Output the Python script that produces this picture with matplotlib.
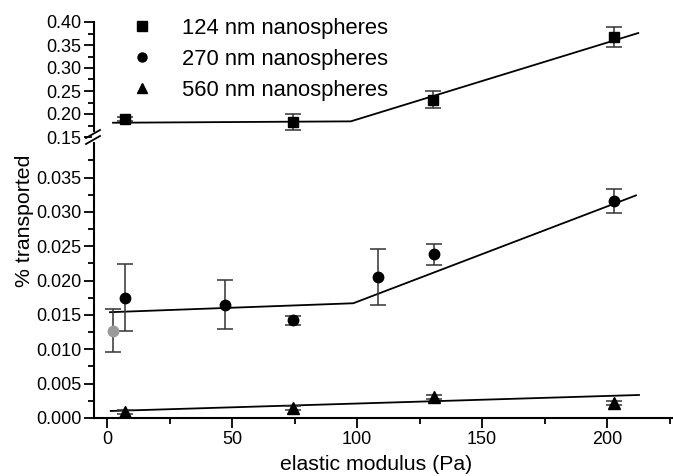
import matplotlib
matplotlib.use("Agg")
import matplotlib.pyplot as plt
from matplotlib.lines import Line2D

plt.rcParams['font.family'] = ['Liberation Sans', 'DejaVu Sans']

# ---- data ----
x124 = [7.2, 74.3, 130.4, 202.8]
y124 = [0.189, 0.183, 0.231, 0.367]
e124 = [0.005, 0.0175, 0.019, 0.022]
fit124_x = [2.4, 97.5, 212.5]
fit124_y = [0.181, 0.184, 0.376]

x270 = [7.2, 47.3, 74.3, 108.5, 130.8, 202.8]
y270 = [0.0175, 0.0165, 0.0142, 0.0205, 0.0238, 0.0316]
e270 = [0.0049, 0.0036, 0.0007, 0.0041, 0.0015, 0.0017]
x270_gray = [2.4]
y270_gray = [0.0127]
e270_gray = [0.0031]
fit270_x = [1.2, 98.5, 211.6]
fit270_y = [0.0154, 0.0167, 0.0324]

x560 = [7.2, 74.3, 130.6, 202.8]
y560 = [0.00092, 0.0015, 0.0031, 0.00214]
e560 = [0.0003, 0.0003, 0.0003, 0.0003]
fit560_x = [1.5, 212.8]
fit560_y = [0.00102, 0.00335]

labels = ['124 nm nanospheres', '270 nm nanospheres', '560 nm nanospheres']

# ---- figure ----
W, H = 673, 476
fig = plt.figure(figsize=(W / 100, H / 100), dpi=100)
left = 94 / W
right = 673 / W
bot = (H - 418) / H
mid = (H - 137) / H
top = (H - 22) / H

ax_b = fig.add_axes([left, bot, right - left, mid - bot])
ax_t = fig.add_axes([left, mid, right - left, top - mid], sharex=ax_b)

xlim = (-5.2, 226.4)
ax_b.set_xlim(*xlim)
ax_b.set_ylim(0, 0.0409)
ax_t.set_ylim(0.15, 0.40)

ebkw = dict(ecolor='#333333', elinewidth=1.1, capsize=6, capthick=1.1, linestyle='none')
ms = 7.5

ax_t.errorbar(x124, y124, yerr=e124, marker='s', ms=ms, color='black', **ebkw, zorder=3)
ax_t.plot(fit124_x, fit124_y, color='black', lw=1.3, zorder=2)

ax_b.errorbar(x270, y270, yerr=e270, marker='o', ms=ms, color='black', **ebkw, zorder=3)
ax_b.errorbar(x270_gray, y270_gray, yerr=e270_gray, marker='o', ms=ms, color='#9a9a9a', **ebkw, zorder=3)
ax_b.plot(fit270_x, fit270_y, color='black', lw=1.3, zorder=2)

ax_b.errorbar(x560, y560, yerr=e560, marker='^', ms=ms + 0.5, color='black', **ebkw, zorder=3)
ax_b.plot(fit560_x, fit560_y, color='black', lw=1.3, zorder=2)

# spines / ticks
for ax in (ax_b, ax_t):
    ax.spines['right'].set_visible(False)
    ax.spines['top'].set_visible(False)
    for s in ax.spines.values():
        s.set_linewidth(1.5)
    ax.tick_params(which='major', direction='out', length=7, width=1.3, labelsize=13, pad=2)
    ax.tick_params(which='minor', direction='out', length=4, width=1.3)
    ax.patch.set_alpha(0)

ax_t.spines['bottom'].set_visible(False)
ax_t.tick_params(axis='x', which='both', bottom=False, labelbottom=False)

ax_b.set_xticks([0, 50, 100, 150, 200])
ax_b.set_xticks([25, 75, 125, 175, 225], minor=True)
ax_b.set_yticks([0.000, 0.005, 0.010, 0.015, 0.020, 0.025, 0.030, 0.035])
ax_b.set_yticks([0.0025, 0.0075, 0.0125, 0.0175, 0.0225, 0.0275, 0.0325, 0.0375], minor=True)
ax_b.set_yticklabels(['0.000', '0.005', '0.010', '0.015', '0.020', '0.025', '0.030', '0.035'])

ax_t.set_yticks([0.15, 0.20, 0.25, 0.30, 0.35, 0.40])
ax_t.set_yticks([0.175, 0.225, 0.275, 0.325, 0.375], minor=True)
ax_t.set_yticklabels(['0.15', '0.20', '0.25', '0.30', '0.35', '0.40'])

# break marks
def fx(px):
    return px / W
def fy(py):
    return (H - py) / H
for dy in (-3, 3):
    fig.add_artist(Line2D([fx(86), fx(100)], [fy(141 + dy), fy(133 + dy)],
                          color='black', lw=1.3, transform=fig.transFigure))
fig.add_artist(Line2D([fx(94), fx(94)], [fy(134), fy(140)], color='white', lw=3,
                      transform=fig.transFigure, zorder=1))

# labels
fig.text(376 / W, fy(465), 'elastic modulus (Pa)', ha='center', va='center', fontsize=15.3)
fig.text(24 / W, fy(221), '% transported', ha='center', va='center', rotation=90, fontsize=15.3)

handles = [Line2D([], [], marker='s', ms=6.5, color='black', ls='none'),
           Line2D([], [], marker='o', ms=6.5, color='black', ls='none'),
           Line2D([], [], marker='^', ms=7, color='black', ls='none')]
fig.legend(handles, labels, loc='upper left', bbox_to_anchor=(fx(129), fy(18)),
           frameon=False, fontsize=15.8, handlelength=1.2, handletextpad=1.2,
           labelspacing=0.45, borderaxespad=0, borderpad=0)

fig.savefig('out.png', dpi=100)
